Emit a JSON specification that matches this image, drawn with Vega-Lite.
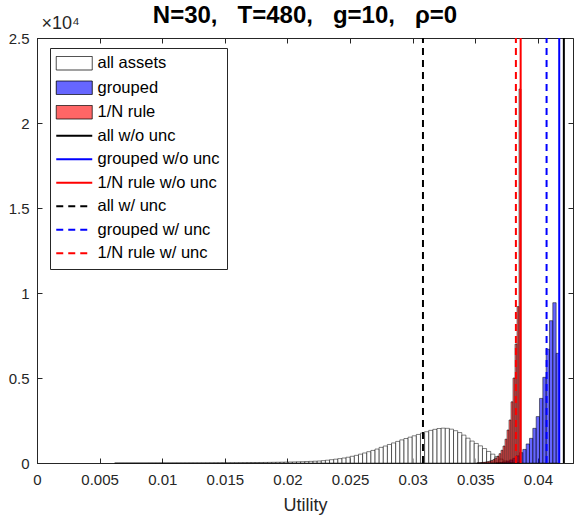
{
  "$schema": "https://vega.github.io/schema/vega-lite/v6.json",
  "width": 536,
  "height": 425,
  "autosize": {"type": "none"},
  "padding": {"left": 37, "top": 38, "right": 1, "bottom": 53},
  "title": {"text": "N=30,\u00a0\u00a0 T=480,\u00a0\u00a0 g=10,\u00a0\u00a0 ρ=0", "fontSize": 24, "fontWeight": "bold", "font": "Liberation Sans", "color": "#000000", "anchor": "middle", "frame": "group", "offset": -14},
  "config": {
    "font": "Liberation Sans",
    "view": {"stroke": "#262626", "strokeWidth": 1},
    "axis": {"domainColor": "#262626", "tickColor": "#262626", "labelColor": "#262626", "titleColor": "#262626", "labelFont": "Liberation Sans", "titleFont": "Liberation Sans", "labelFontSize": 15, "grid": false, "labelFlush": false, "labelOverlap": false, "labelBound": false},
    "legend": {
      "orient": "none", "legendX": 13, "legendY": 10, "direction": "vertical", "title": null,
      "padding": 7, "strokeColor": "#262626", "fillColor": "#ffffff",
      "labelFont": "Liberation Sans", "labelFontSize": 16.5, "labelColor": "#000000",
      "symbolOffset": 9, "labelOffset": 15, "rowPadding": 6.5, "symbolSize": 100
    }
  },
  "datasets": {
    "bars": [
      {"s":"all assets","a":0.0062,"b":0.00653,"n":1},
      {"s":"all assets","a":0.00653,"b":0.00686,"n":1},
      {"s":"all assets","a":0.00686,"b":0.00719,"n":1},
      {"s":"all assets","a":0.00719,"b":0.00752,"n":1},
      {"s":"all assets","a":0.00752,"b":0.00785,"n":2},
      {"s":"all assets","a":0.00785,"b":0.00818,"n":2},
      {"s":"all assets","a":0.00818,"b":0.00851,"n":2},
      {"s":"all assets","a":0.00851,"b":0.00884,"n":2},
      {"s":"all assets","a":0.00884,"b":0.00917,"n":3},
      {"s":"all assets","a":0.00917,"b":0.0095,"n":3},
      {"s":"all assets","a":0.0095,"b":0.00983,"n":3},
      {"s":"all assets","a":0.00983,"b":0.01016,"n":4},
      {"s":"all assets","a":0.01016,"b":0.01049,"n":4},
      {"s":"all assets","a":0.01049,"b":0.01082,"n":4},
      {"s":"all assets","a":0.01082,"b":0.01115,"n":5},
      {"s":"all assets","a":0.01115,"b":0.01148,"n":5},
      {"s":"all assets","a":0.01148,"b":0.01181,"n":6},
      {"s":"all assets","a":0.01181,"b":0.01214,"n":6},
      {"s":"all assets","a":0.01214,"b":0.01247,"n":7},
      {"s":"all assets","a":0.01247,"b":0.0128,"n":8},
      {"s":"all assets","a":0.0128,"b":0.01313,"n":8},
      {"s":"all assets","a":0.01313,"b":0.01346,"n":9},
      {"s":"all assets","a":0.01346,"b":0.01379,"n":10},
      {"s":"all assets","a":0.01379,"b":0.01412,"n":11},
      {"s":"all assets","a":0.01412,"b":0.01445,"n":12},
      {"s":"all assets","a":0.01445,"b":0.01478,"n":13},
      {"s":"all assets","a":0.01478,"b":0.01511,"n":14},
      {"s":"all assets","a":0.01511,"b":0.01544,"n":15},
      {"s":"all assets","a":0.01544,"b":0.01577,"n":17},
      {"s":"all assets","a":0.01577,"b":0.0161,"n":18},
      {"s":"all assets","a":0.0161,"b":0.01643,"n":20},
      {"s":"all assets","a":0.01643,"b":0.01676,"n":22},
      {"s":"all assets","a":0.01676,"b":0.01709,"n":24},
      {"s":"all assets","a":0.01709,"b":0.01742,"n":26},
      {"s":"all assets","a":0.01742,"b":0.01775,"n":28},
      {"s":"all assets","a":0.01775,"b":0.01808,"n":31},
      {"s":"all assets","a":0.01808,"b":0.01841,"n":34},
      {"s":"all assets","a":0.01841,"b":0.01874,"n":37},
      {"s":"all assets","a":0.01874,"b":0.01907,"n":41},
      {"s":"all assets","a":0.01907,"b":0.0194,"n":45},
      {"s":"all assets","a":0.0194,"b":0.01973,"n":49},
      {"s":"all assets","a":0.01973,"b":0.02006,"n":54},
      {"s":"all assets","a":0.02006,"b":0.02039,"n":59},
      {"s":"all assets","a":0.02039,"b":0.02072,"n":65},
      {"s":"all assets","a":0.02072,"b":0.02105,"n":72},
      {"s":"all assets","a":0.02105,"b":0.02138,"n":79},
      {"s":"all assets","a":0.02138,"b":0.02171,"n":87},
      {"s":"all assets","a":0.02171,"b":0.02204,"n":96},
      {"s":"all assets","a":0.02204,"b":0.02237,"n":106},
      {"s":"all assets","a":0.02237,"b":0.0227,"n":117},
      {"s":"all assets","a":0.0227,"b":0.02303,"n":140},
      {"s":"all assets","a":0.02303,"b":0.02336,"n":165},
      {"s":"all assets","a":0.02336,"b":0.02369,"n":195},
      {"s":"all assets","a":0.02369,"b":0.02402,"n":225},
      {"s":"all assets","a":0.02402,"b":0.02435,"n":258},
      {"s":"all assets","a":0.02435,"b":0.02468,"n":295},
      {"s":"all assets","a":0.02468,"b":0.02501,"n":340},
      {"s":"all assets","a":0.02501,"b":0.02534,"n":395},
      {"s":"all assets","a":0.02534,"b":0.02567,"n":450},
      {"s":"all assets","a":0.02567,"b":0.026,"n":520},
      {"s":"all assets","a":0.026,"b":0.02633,"n":590},
      {"s":"all assets","a":0.02633,"b":0.02666,"n":665},
      {"s":"all assets","a":0.02666,"b":0.02699,"n":740},
      {"s":"all assets","a":0.02699,"b":0.02732,"n":820},
      {"s":"all assets","a":0.02732,"b":0.02765,"n":920},
      {"s":"all assets","a":0.02765,"b":0.02798,"n":1000},
      {"s":"all assets","a":0.02798,"b":0.02831,"n":1090},
      {"s":"all assets","a":0.02831,"b":0.02864,"n":1180},
      {"s":"all assets","a":0.02864,"b":0.02897,"n":1270},
      {"s":"all assets","a":0.02897,"b":0.0293,"n":1360},
      {"s":"all assets","a":0.0293,"b":0.02963,"n":1440},
      {"s":"all assets","a":0.02963,"b":0.02996,"n":1520},
      {"s":"all assets","a":0.02996,"b":0.03029,"n":1600},
      {"s":"all assets","a":0.03029,"b":0.03062,"n":1680},
      {"s":"all assets","a":0.03062,"b":0.03095,"n":1760},
      {"s":"all assets","a":0.03095,"b":0.03128,"n":1840},
      {"s":"all assets","a":0.03128,"b":0.03161,"n":1920},
      {"s":"all assets","a":0.03161,"b":0.03194,"n":1980},
      {"s":"all assets","a":0.03194,"b":0.03227,"n":2030},
      {"s":"all assets","a":0.03227,"b":0.0326,"n":2050},
      {"s":"all assets","a":0.0326,"b":0.03293,"n":2040},
      {"s":"all assets","a":0.03293,"b":0.03326,"n":1990},
      {"s":"all assets","a":0.03326,"b":0.03359,"n":1900},
      {"s":"all assets","a":0.03359,"b":0.03392,"n":1790},
      {"s":"all assets","a":0.03392,"b":0.03425,"n":1640},
      {"s":"all assets","a":0.03425,"b":0.03458,"n":1460},
      {"s":"all assets","a":0.03458,"b":0.03491,"n":1290},
      {"s":"all assets","a":0.03491,"b":0.03524,"n":1150},
      {"s":"all assets","a":0.03524,"b":0.03557,"n":1010},
      {"s":"all assets","a":0.03557,"b":0.0359,"n":850},
      {"s":"all assets","a":0.0359,"b":0.03623,"n":680},
      {"s":"all assets","a":0.03623,"b":0.03656,"n":520},
      {"s":"all assets","a":0.03656,"b":0.03689,"n":370},
      {"s":"all assets","a":0.03689,"b":0.03722,"n":230},
      {"s":"all assets","a":0.03722,"b":0.03755,"n":120},
      {"s":"all assets","a":0.03755,"b":0.03788,"n":50},
      {"s":"grouped","a":0.036666,"b":0.036932,"n":15},
      {"s":"grouped","a":0.036932,"b":0.037198,"n":30},
      {"s":"grouped","a":0.037198,"b":0.037464,"n":60},
      {"s":"grouped","a":0.037464,"b":0.03773,"n":110},
      {"s":"grouped","a":0.03773,"b":0.037996,"n":180},
      {"s":"grouped","a":0.037996,"b":0.038262,"n":280},
      {"s":"grouped","a":0.038262,"b":0.038528,"n":420},
      {"s":"grouped","a":0.038528,"b":0.038794,"n":610},
      {"s":"grouped","a":0.038794,"b":0.03906,"n":800},
      {"s":"grouped","a":0.03906,"b":0.039326,"n":1120},
      {"s":"grouped","a":0.039326,"b":0.039592,"n":1450},
      {"s":"grouped","a":0.039592,"b":0.039858,"n":2040},
      {"s":"grouped","a":0.039858,"b":0.040124,"n":2730},
      {"s":"grouped","a":0.040124,"b":0.04039,"n":3800},
      {"s":"grouped","a":0.04039,"b":0.040656,"n":5040},
      {"s":"grouped","a":0.040656,"b":0.040922,"n":6690},
      {"s":"grouped","a":0.040922,"b":0.041188,"n":8370},
      {"s":"grouped","a":0.041188,"b":0.041454,"n":9430},
      {"s":"grouped","a":0.041454,"b":0.04172,"n":6450},
      {"s":"1/N rule","a":0.03513,"b":0.03529,"n":8},
      {"s":"1/N rule","a":0.03529,"b":0.03545,"n":15},
      {"s":"1/N rule","a":0.03545,"b":0.03561,"n":25},
      {"s":"1/N rule","a":0.03561,"b":0.03577,"n":40},
      {"s":"1/N rule","a":0.03577,"b":0.03593,"n":55},
      {"s":"1/N rule","a":0.03593,"b":0.03609,"n":80},
      {"s":"1/N rule","a":0.03609,"b":0.03625,"n":110},
      {"s":"1/N rule","a":0.03625,"b":0.03641,"n":150},
      {"s":"1/N rule","a":0.03641,"b":0.03657,"n":210},
      {"s":"1/N rule","a":0.03657,"b":0.03673,"n":290},
      {"s":"1/N rule","a":0.03673,"b":0.03689,"n":400},
      {"s":"1/N rule","a":0.03689,"b":0.03705,"n":550},
      {"s":"1/N rule","a":0.03705,"b":0.03721,"n":750},
      {"s":"1/N rule","a":0.03721,"b":0.03737,"n":1000},
      {"s":"1/N rule","a":0.03737,"b":0.03753,"n":1400},
      {"s":"1/N rule","a":0.03753,"b":0.03769,"n":1940},
      {"s":"1/N rule","a":0.03769,"b":0.03785,"n":2530},
      {"s":"1/N rule","a":0.03785,"b":0.03801,"n":3600},
      {"s":"1/N rule","a":0.03801,"b":0.03817,"n":5000},
      {"s":"1/N rule","a":0.03817,"b":0.03833,"n":7000},
      {"s":"1/N rule","a":0.03833,"b":0.03849,"n":9200},
      {"s":"1/N rule","a":0.03849,"b":0.03865,"n":22000}
    ],
    "lines": [
      {"s":"all w/o unc","v":0.04207,"d":"solid"},
      {"s":"grouped w/o unc","v":0.0417,"d":"solid"},
      {"s":"1/N rule w/o unc","v":0.03862,"d":"solid"},
      {"s":"all w/ unc","v":0.03082,"d":"dash"},
      {"s":"grouped w/ unc","v":0.04069,"d":"dash"},
      {"s":"1/N rule w/ unc","v":0.03824,"d":"dash"}
    ]
  },
  "layer": [
    {
      "data": {"name": "bars"},
      "mark": {"type": "rect", "stroke": "#000000", "strokeWidth": 0.5, "fillOpacity": 0.6},
      "encoding": {
        "x": {"field": "a", "type": "quantitative", "scale": {"domain": [0, 0.0428], "nice": false, "zero": false},
              "axis": {"orient": "bottom", "values": [0, 0.005, 0.01, 0.015, 0.02, 0.025, 0.03, 0.035, 0.04], "labelExpr": "'' + datum.value", "tickSize": -5, "labelPadding": 14, "title": "Utility", "titleFontSize": 18, "titleFontWeight": "normal", "titlePadding": 9}},
        "x2": {"field": "b"},
        "y": {"field": "n", "type": "quantitative", "scale": {"domain": [0, 25000], "nice": false},
              "axis": {"orient": "left", "values": [0, 5000, 10000, 15000, 20000, 25000], "labelExpr": "'' + datum.value / 10000", "tickSize": -5, "labelPadding": 13, "title": "×10⁴", "titleAngle": 0, "titleAlign": "left", "titleBaseline": "alphabetic", "titleX": 4, "titleY": -10, "titleFontSize": 18, "titleFontWeight": "normal"}},
        "y2": {"datum": 0},
        "fill": {"field": "s", "type": "nominal",
          "scale": {"domain": ["all assets", "grouped", "1/N rule"], "range": ["#ffffff", "#0000ff", "#ff0000"]},
          "legend": null}
      }
    },
    {
      "data": {"name": "lines"},
      "mark": {"type": "rule", "strokeWidth": 2},
      "encoding": {
        "x": {"field": "v", "type": "quantitative", "scale": {"domain": [0, 0.0428], "nice": false, "zero": false},
              "axis": {"orient": "top", "values": [0, 0.005, 0.01, 0.015, 0.02, 0.025, 0.03, 0.035, 0.04], "labels": false, "title": null, "tickSize": -5, "domain": false}},
        "y": {"datum": 0, "type": "quantitative", "scale": {"domain": [0, 25000], "nice": false},
              "axis": {"orient": "right", "values": [0, 5000, 10000, 15000, 20000, 25000], "labels": false, "title": null, "tickSize": -5, "domain": false}},
        "y2": {"datum": 25000},
        "color": {"field": "s", "type": "nominal",
          "scale": {"domain": ["all assets", "grouped", "1/N rule", "all w/o unc", "grouped w/o unc", "1/N rule w/o unc", "all w/ unc", "grouped w/ unc", "1/N rule w/ unc"],
                    "range": ["#000000", "#000000", "#000000", "#000000", "#0000ff", "#ff0000", "#000000", "#0000ff", "#ff0000"]},
          "legend": {
            "encode": {"symbols": {"update": {
              "shape": {"signal": "indexof(['all assets','grouped','1/N rule'], datum.value) >= 0 ? 'M-3.6,-1.35H3.6V1.35H-3.6Z' : 'M-3.6,0H3.6'"},
              "size": {"value": 100},
              "fill": {"signal": "datum.value == 'grouped' ? '#0000ff' : datum.value == '1/N rule' ? '#ff0000' : datum.value == 'all assets' ? '#ffffff' : 'transparent'"},
              "fillOpacity": {"value": 0.6},
              "strokeOpacity": {"value": 1},
              "strokeWidth": {"signal": "indexof(['all assets','grouped','1/N rule'], datum.value) >= 0 ? 0.8 : 2"},
              "strokeDash": {"signal": "indexof(['all w/ unc','grouped w/ unc','1/N rule w/ unc'], datum.value) >= 0 ? [7,5] : [1,0]"},
              "opacity": {"value": 1}
            }}}
          }
        },
        "strokeDash": {"field": "d", "type": "nominal", "scale": {"domain": ["solid", "dash"], "range": [[1, 0], [7, 5]]}, "legend": null}
      }
    }
  ],
  "resolve": {"axis": {"x": "independent", "y": "independent"}}
}
